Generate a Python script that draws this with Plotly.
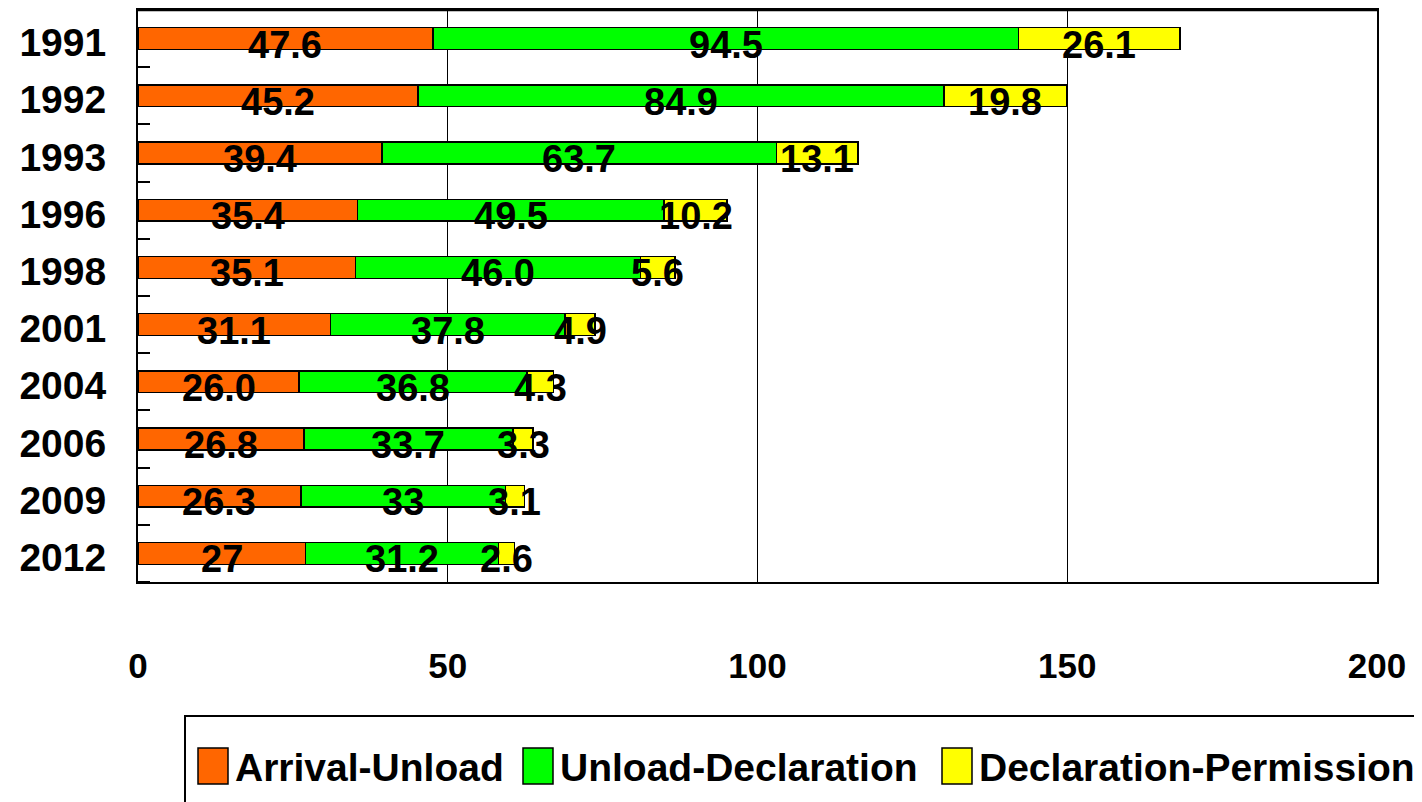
import plotly.graph_objects as go

years = ["1991", "1992", "1993", "1996", "1998", "2001", "2004", "2006", "2009", "2012"]
arrival_unload = [47.6, 45.2, 39.4, 35.4, 35.1, 31.1, 26.0, 26.8, 26.3, 27]
unload_declaration = [94.5, 84.9, 63.7, 49.5, 46.0, 37.8, 36.8, 33.7, 33, 31.2]
declaration_permission = [26.1, 19.8, 13.1, 10.2, 5.6, 4.9, 4.3, 3.3, 3.1, 2.6]
arrival_labels = ["47.6", "45.2", "39.4", "35.4", "35.1", "31.1", "26.0", "26.8", "26.3", "27"]
unload_labels = ["94.5", "84.9", "63.7", "49.5", "46.0", "37.8", "36.8", "33.7", "33", "31.2"]
permission_labels = ["26.1", "19.8", "13.1", "10.2", "5.6", "4.9", "4.3", "3.3", "3.1", "2.6"]
series_names = ["Arrival-Unload", "Unload-Declaration", "Declaration-Permission"]
series_colors = ["#FF6600", "#00FF00", "#FFFF00"]
x_ticks = [0, 50, 100, 150, 200]

FONT = "Liberation Sans, Arial, sans-serif"
OFF = 8  # page body margin offset in the browser
W, H = 1422, 802
# target plot area on screen: x 138..1377, y 10..582
ML, MR, MT, MB = 138 - OFF, W - 1377 + OFF, 2, H - 582 + OFF
PW, PH = W - ML - MR, H - MT - MB

def px_x(px):
    return (px - OFF - ML) / PW

def px_y(py):
    return (H - MB - (py - OFF)) / PH

ypos = list(range(len(years)))
series = [arrival_unload, unload_declaration, declaration_permission]
labels = [arrival_labels, unload_labels, permission_labels]

fig = go.Figure()
for name, vals, color in zip(series_names, series, series_colors):
    fig.add_trace(go.Bar(
        y=ypos, x=vals, name=name, orientation="h",
        marker=dict(color=color, line=dict(color="black", width=1.5)),
        width=0.38, showlegend=False,
    ))

annotations = []
base = [0.0] * len(years)
for vals, labs in zip(series, labels):
    for i, (v, t) in enumerate(zip(vals, labs)):
        annotations.append(dict(
            x=base[i] + v / 2, y=ypos[i], xref="x", yref="y", text=t,
            showarrow=False, yshift=-6,
            font=dict(family=FONT, size=38, color="black", weight="bold"),
        ))
        base[i] += v

shapes = [dict(type="rect", xref="paper", yref="paper",
               x0=px_x(185), x1=px_x(1445), y0=px_y(830), y1=px_y(716),
               line=dict(color="black", width=2), fillcolor="white", layer="below")]
legend_swatch_x = [198, 523, 942]
legend_text_x = [233, 558, 977]
for name, color, sx, tx in zip(series_names, series_colors, legend_swatch_x, legend_text_x):
    shapes.append(dict(type="rect", xref="paper", yref="paper",
                       x0=px_x(sx), x1=px_x(sx + 30), y0=px_y(784), y1=px_y(748),
                       line=dict(color="black", width=1.5), fillcolor=color))
    annotations.append(dict(x=px_x(tx), y=px_y(767), xref="paper", yref="paper",
                            xanchor="left", yanchor="middle", text=name, showarrow=False,
                            font=dict(family=FONT, size=39, color="black", weight="bold")))

# top border of the plot area
shapes.append(dict(type="line", xref="paper", yref="paper", x0=0, x1=1, y0=1, y1=1,
                   line=dict(color="black", width=2.5)))

fig.update_layout(
    width=W, height=H, barmode="stack",
    margin=dict(l=ML, r=MR, t=MT, b=MB, autoexpand=False),
    paper_bgcolor="white", plot_bgcolor="white",
    shapes=shapes, annotations=annotations,
    font=dict(family=FONT, size=38, color="black", weight="bold"),
    xaxis=dict(range=[0, 200], tickvals=x_ticks, showgrid=True, gridcolor="black", gridwidth=1,
               showline=True, linecolor="black", linewidth=2, mirror=True, zeroline=False,
               ticks="", ticklabelstandoff=52, automargin=False,
               tickfont=dict(family=FONT, size=35, color="black", weight="bold")),
    yaxis=dict(range=[9.5, -0.5], tickvals=ypos, ticktext=years, showline=True,
               linecolor="black", linewidth=2, mirror=True, ticks="", showgrid=False,
               zeroline=False, ticklabelstandoff=22, ticklabelshift=-4, automargin=False,
               minor=dict(tickvals=[k - 0.5 for k in range(len(years) + 1)], ticks="inside",
                          ticklen=12, tickcolor="black", tickwidth=2, showgrid=False),
               tickfont=dict(family=FONT, size=39, color="black", weight="bold")),
)

fig.write_html("out.html")
